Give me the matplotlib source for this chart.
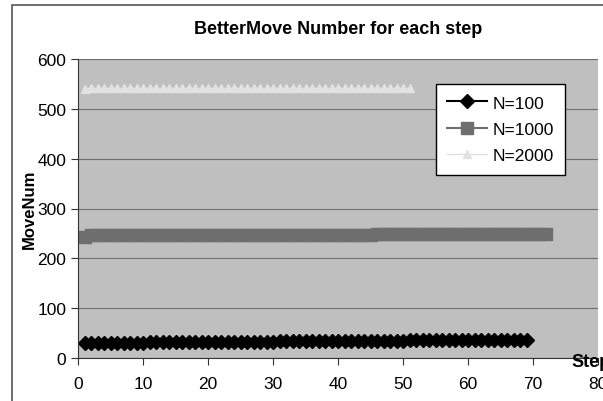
import matplotlib.pyplot as plt
from matplotlib.patches import Rectangle

plt.rcParams['font.family'] = ['Liberation Sans Narrow', 'Liberation Sans', 'DejaVu Sans']

# Dados
steps_100 = list(range(1, 70))
move_100 = [31, 31, 31, 31, 31, 31, 31, 31, 31, 31,
            32, 32, 32, 32, 32, 32, 32, 32, 32, 32,
            33, 33, 33, 33, 33, 33, 33, 33, 33, 33,
            34, 34, 34, 34, 34, 34, 34, 34, 34, 34,
            35, 35, 35, 35, 35, 35, 35, 35, 35, 35,
            36, 36, 36, 36, 36, 36, 36, 36, 36, 36,
            37, 37, 37, 37, 37, 37, 37, 37, 37]

steps_1000 = list(range(1, 73))
move_1000 = [242, 247, 247, 247, 247, 247, 247, 247, 247, 247,
             247, 247, 247, 247, 247, 247, 247, 247, 247, 247,
             247, 247, 247, 247, 247, 247, 247, 247, 247, 247,
             247, 247, 247, 247, 247, 247, 247, 247, 247, 247,
             247, 247, 247, 247, 247, 249, 249, 249, 249, 249,
             249, 249, 249, 249, 249, 249, 249, 249, 249, 249,
             249, 249, 249, 249, 249, 249, 249, 249, 249, 249,
             249, 249]

steps_2000 = list(range(1, 52))
move_2000 = [540, 541, 541, 541, 541, 541, 541, 541, 541, 541,
             541, 541, 541, 541, 541, 541, 541, 541, 541, 541,
             541, 541, 541, 541, 541, 541, 541, 541, 541, 541,
             541, 541, 541, 541, 541, 541, 541, 541, 541, 541,
             541, 541, 541, 541, 541, 541, 541, 541, 541, 541,
             541]

fig = plt.figure(figsize=(6.03, 4.02), dpi=100)
# moldura externa do grafico
fig.patches.append(Rectangle((12/603, -0.05), 1.0, 1.05 - 6/402, transform=fig.transFigure,
                             fill=False, edgecolor='#555555', lw=1.2))
ax = fig.add_axes([78/603, 43/402, 520/603, 299/402])
ax.set_facecolor('#bfbfbf')

ax.plot(steps_100, move_100, color='black', marker='D', markersize=7.5, lw=1.5, label='N=100')
ax.plot(steps_1000, move_1000, color='#6e6e6e', marker='s', markersize=8, lw=1.5, label='N=1000')
ax.plot(steps_2000, move_2000, color='#e2e2e2', marker='^', markersize=6, lw=1.0, label='N=2000')

ax.set_xlim(0, 80)
ax.set_ylim(0, 600)
ax.set_xticks(range(0, 81, 10))
ax.set_yticks(range(0, 601, 100))
ax.yaxis.grid(True, color='#707070', lw=0.8)
ax.set_axisbelow(True)
ax.tick_params(direction='out', length=5, labelsize=12.5, color='#333333')
ax.tick_params(axis='x', pad=8)
for s in ['top', 'right']:
    ax.spines[s].set_visible(False)
ax.spines['left'].set_color('#333333')
ax.spines['bottom'].set_color('#333333')

ax.set_title('BetterMove Number for each step', fontsize=13, fontweight='bold', pad=19)
ax.set_ylabel('MoveNum', fontsize=12, fontweight='bold', labelpad=0)
ax.text(0.948, -0.012, 'Step', transform=ax.transAxes, fontsize=13, fontweight='bold',
        ha='left', va='center', clip_on=False)

leg = ax.legend(loc='upper right', bbox_to_anchor=(0.937, 0.916), borderaxespad=0, fontsize=12.5,
                fancybox=False, framealpha=1, edgecolor='black', handlelength=2.3,
                handletextpad=0.3, borderpad=0.65, labelspacing=0.65)
leg.get_frame().set_linewidth(1.0)

plt.savefig('out.png', dpi=100)
